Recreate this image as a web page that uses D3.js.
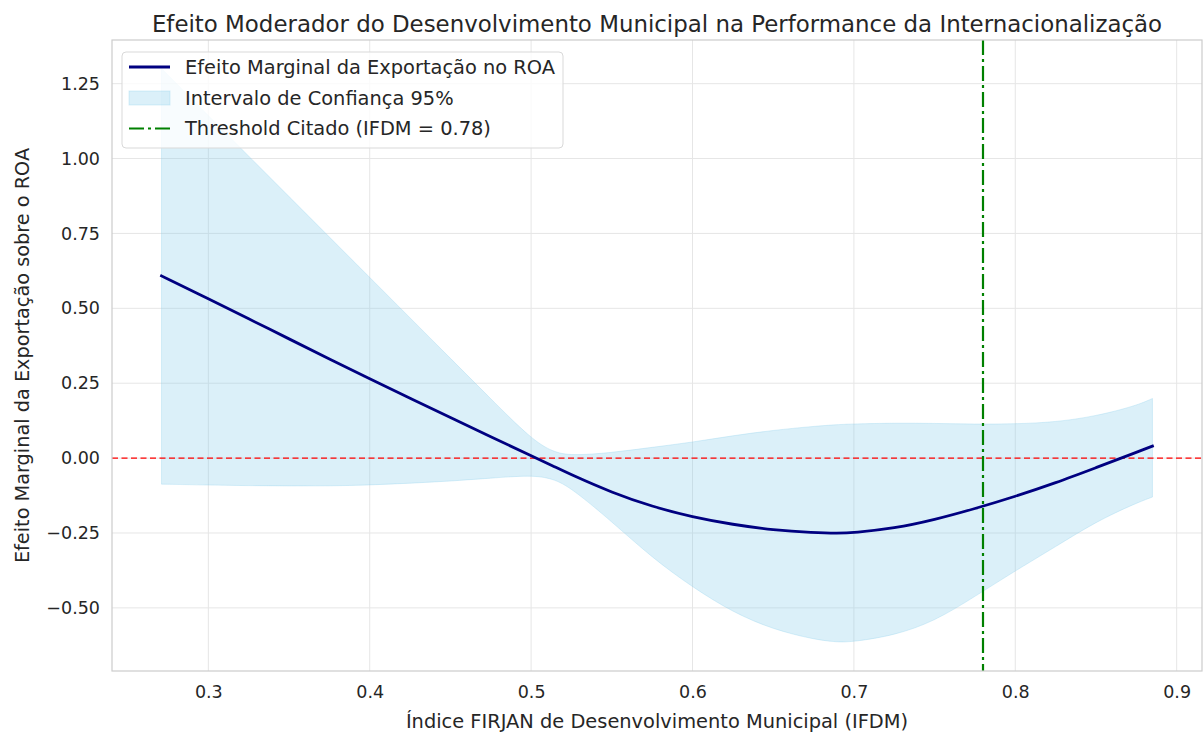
<!DOCTYPE html>
<html>
<head>
<meta charset="utf-8">
<script src="https://cdn.jsdelivr.net/npm/d3@7"></script>
<style>
  html, body { margin: 0; padding: 0; background: #ffffff; }
  svg { display: block; font-family: "DejaVu Sans", sans-serif; }
</style>
</head>
<body>
<svg id="chart" width="1203" height="733"></svg>
<script>
// ---- data ----
const ifdm       = [0.271, 0.30, 0.325, 0.35, 0.375, 0.40, 0.425, 0.45, 0.475, 0.50, 0.5135, 0.525, 0.55, 0.575, 0.60, 0.625, 0.65, 0.675, 0.69, 0.70, 0.725, 0.75, 0.775, 0.80, 0.825, 0.85, 0.875, 0.885];
const efeito     = [0.608, 0.532, 0.465, 0.398, 0.331, 0.265, 0.200, 0.135, 0.071, 0.008, -0.026, -0.056, -0.115, -0.162, -0.197, -0.222, -0.240, -0.249, -0.251, -0.249, -0.235, -0.206, -0.169, -0.128, -0.083, -0.032, 0.019, 0.040];
const icSuperior = [1.300, 1.143, 1.008, 0.873, 0.738, 0.603, 0.468, 0.333, 0.198, 0.064, 0.020, 0.008, 0.018, 0.036, 0.053, 0.075, 0.093, 0.106, 0.112, 0.114, 0.117, 0.116, 0.113, 0.114, 0.120, 0.140, 0.175, 0.199];
const icInferior = [-0.087, -0.090, -0.092, -0.093, -0.093, -0.090, -0.084, -0.077, -0.067, -0.057, -0.068, -0.100, -0.212, -0.333, -0.431, -0.515, -0.572, -0.605, -0.615, -0.613, -0.592, -0.545, -0.462, -0.376, -0.296, -0.212, -0.150, -0.130];
const threshold  = 0.78;
const xTicks = [0.3, 0.4, 0.5, 0.6, 0.7, 0.8, 0.9];
const yTicks = [-0.5, -0.25, 0.0, 0.25, 0.5, 0.75, 1.0, 1.25];
const titleText  = "Efeito Moderador do Desenvolvimento Municipal na Performance da Internacionalização";
const xLabelText = "Índice FIRJAN de Desenvolvimento Municipal (IFDM)";
const yLabelText = "Efeito Marginal da Exportação sobre o ROA";
const legendLabels = ["Efeito Marginal da Exportação no ROA", "Intervalo de Confiança 95%", "Threshold Citado (IFDM = 0.78)"];

// ---- layout ----
const W = 1203, H = 733;
const plot = { left: 112, right: 1202, top: 40, bottom: 671 };
const textColor = "#262626";

const rows = ifdm.map((x, i) => ({ x, y: efeito[i], lo: icInferior[i], hi: icSuperior[i] }));

const xExt = d3.extent(ifdm);
const xPad = (xExt[1] - xExt[0]) * 0.05;
const yMin = d3.min(icInferior), yMax = d3.max(icSuperior);
const yPad = (yMax - yMin) * 0.05;

const x = d3.scaleLinear().domain([xExt[0] - xPad, xExt[1] + xPad]).range([plot.left, plot.right]);
const y = d3.scaleLinear().domain([yMin - yPad, yMax + yPad]).range([plot.bottom, plot.top]);

const svg = d3.select("#chart");
svg.append("rect").attr("width", W).attr("height", H).attr("fill", "#ffffff");

// grid
const grid = svg.append("g");
grid.selectAll(".gx").data(xTicks).join("line")
  .attr("x1", d => x(d)).attr("x2", d => x(d))
  .attr("y1", plot.top).attr("y2", plot.bottom)
  .attr("stroke", "#e6e6e6").attr("stroke-width", 1);
grid.selectAll(".gy").data(yTicks).join("line")
  .attr("x1", plot.left).attr("x2", plot.right)
  .attr("y1", d => y(d)).attr("y2", d => y(d))
  .attr("stroke", "#e6e6e6").attr("stroke-width", 1);

svg.append("clipPath").attr("id", "clip")
  .append("rect").attr("x", plot.left).attr("y", plot.top)
  .attr("width", plot.right - plot.left).attr("height", plot.bottom - plot.top);

const layer = svg.append("g").attr("clip-path", "url(#clip)");

const smooth = d3.curveBasis;

// confidence band
const area = d3.area().x(d => x(d.x)).y0(d => y(d.lo)).y1(d => y(d.hi)).curve(smooth);
layer.append("path").datum(rows).attr("d", area)
  .attr("fill", "#87CEEB").attr("fill-opacity", 0.3)
  .attr("stroke", "#87CEEB").attr("stroke-opacity", 0.3).attr("stroke-width", 1);

// zero line
layer.append("line")
  .attr("x1", plot.left).attr("x2", plot.right)
  .attr("y1", y(0)).attr("y2", y(0))
  .attr("stroke", "#ff0000").attr("stroke-width", 1.4).attr("stroke-dasharray", "6,3.5");

// marginal effect line
const line = d3.line().x(d => x(d.x)).y(d => y(d.y)).curve(smooth);
layer.append("path").datum(rows).attr("d", line)
  .attr("fill", "none").attr("stroke", "#000080").attr("stroke-width", 2.8)
  .attr("stroke-linecap", "square");

// threshold line
layer.append("line")
  .attr("x1", x(threshold)).attr("x2", x(threshold))
  .attr("y1", plot.top).attr("y2", plot.bottom)
  .attr("stroke", "#008000").attr("stroke-width", 2.2).attr("stroke-dasharray", "15,4,3,4");

// spines
svg.append("rect")
  .attr("x", plot.left).attr("y", plot.top)
  .attr("width", plot.right - plot.left).attr("height", plot.bottom - plot.top)
  .attr("fill", "none").attr("stroke", "#cccccc").attr("stroke-width", 1.2);

// axes (ticks via d3 axis, styled like the reference)
const fmtY = d => d3.format(".2f")(d).replace("-", "\u2212");
const xAxis = svg.append("g").attr("transform", `translate(0,${plot.bottom})`)
  .call(d3.axisBottom(x).tickValues(xTicks).tickSize(0).tickPadding(15).tickFormat(d3.format(".1f")));
const yAxis = svg.append("g").attr("transform", `translate(${plot.left},0)`)
  .call(d3.axisLeft(y).tickValues(yTicks).tickSize(0).tickPadding(12).tickFormat(fmtY));
[xAxis, yAxis].forEach(g => {
  g.select(".domain").remove();
  g.selectAll("text").attr("fill", textColor).attr("font-size", "17.5px")
    .attr("font-family", "DejaVu Sans, sans-serif");
});

// title and labels
svg.append("text").attr("x", (plot.left + plot.right) / 2).attr("y", 32)
  .attr("text-anchor", "middle").attr("fill", textColor).attr("font-size", "22.9px")
  .text(titleText);
svg.append("text").attr("x", (plot.left + plot.right) / 2).attr("y", 728)
  .attr("text-anchor", "middle").attr("fill", textColor).attr("font-size", "19.4px")
  .text(xLabelText);
svg.append("text")
  .attr("transform", `translate(29,${(plot.top + plot.bottom) / 2}) rotate(-90)`)
  .attr("text-anchor", "middle").attr("fill", textColor).attr("font-size", "19.3px")
  .text(yLabelText);

// legend
const lg = svg.append("g");
lg.append("rect").attr("x", 122).attr("y", 52).attr("width", 441).attr("height", 96)
  .attr("rx", 4).attr("fill", "#ffffff").attr("fill-opacity", 0.8)
  .attr("stroke", "#d9d9d9").attr("stroke-width", 1);
const rowY = [67, 98, 128.5];
lg.append("line").attr("x1", 129).attr("x2", 170).attr("y1", rowY[0]).attr("y2", rowY[0])
  .attr("stroke", "#000080").attr("stroke-width", 2.8);
lg.append("rect").attr("x", 129).attr("y", rowY[1] - 7).attr("width", 41).attr("height", 14)
  .attr("fill", "#87CEEB").attr("fill-opacity", 0.3)
  .attr("stroke", "#87CEEB").attr("stroke-opacity", 0.3);
lg.append("line").attr("x1", 129).attr("x2", 170).attr("y1", rowY[2]).attr("y2", rowY[2])
  .attr("stroke", "#008000").attr("stroke-width", 2.2).attr("stroke-dasharray", "15,4,3,4");
lg.selectAll(".lt").data(legendLabels).join("text")
  .attr("x", 185).attr("y", (d, i) => rowY[i]).attr("dy", "0.35em")
  .attr("fill", textColor).attr("font-size", "19.4px").text(d => d);
</script>
</body>
</html>
